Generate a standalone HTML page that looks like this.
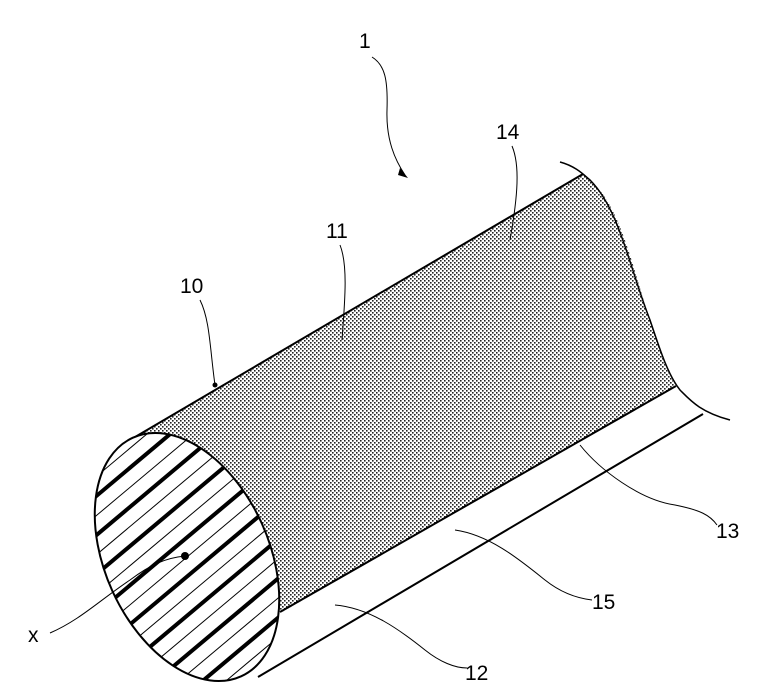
<!DOCTYPE html>
<html><head><style>html,body{margin:0;padding:0;background:#fff;overflow:hidden;width:780px;height:687px}svg{display:block}</style></head>
<body>
<svg width="780" height="687" viewBox="0 0 780 687" xmlns="http://www.w3.org/2000/svg">
<defs>
<pattern id="dots" width="4" height="4" patternUnits="userSpaceOnUse">
<rect x="0" y="0" width="1.6" height="1.6" fill="#222"/>
<rect x="2" y="2" width="1.6" height="1.6" fill="#222"/>
</pattern>
<clipPath id="ell"><ellipse cx="187" cy="557" rx="131" ry="82" transform="rotate(65.6 187 557)"/></clipPath>
</defs>
<path d="M130,440 L583,174 C620,200 630,260 650,320 C660,350 665,370 676,386 L282,612 Z" fill="url(#dots)"/>
<line x1="130" y1="440" x2="583" y2="174" stroke="#000" stroke-width="2"/>
<line x1="280" y1="612" x2="676" y2="386" stroke="#000" stroke-width="2"/>
<line x1="258" y1="677" x2="703" y2="414" stroke="#000" stroke-width="2"/>
<path d="M560,162 C575,166 583,174 590,180 C620,210 630,270 650,320 C660,350 668,375 680,390 C690,400 700,412 730,420" fill="none" stroke="#000" stroke-width="1.5"/>
<ellipse cx="187" cy="557" rx="131" ry="82" transform="rotate(65.6 187 557)" fill="#fff"/>
<g clip-path="url(#ell)" stroke="#000">
<g transform="rotate(-40 187 557)">
<line x1="-100" y1="392" x2="500" y2="392" stroke-width="4"/>
<line x1="-100" y1="407" x2="500" y2="407" stroke-width="1"/>
<line x1="-100" y1="422" x2="500" y2="422" stroke-width="4"/>
<line x1="-100" y1="437" x2="500" y2="437" stroke-width="1"/>
<line x1="-100" y1="452" x2="500" y2="452" stroke-width="4"/>
<line x1="-100" y1="467" x2="500" y2="467" stroke-width="1"/>
<line x1="-100" y1="482" x2="500" y2="482" stroke-width="4"/>
<line x1="-100" y1="497" x2="500" y2="497" stroke-width="1"/>
<line x1="-100" y1="512" x2="500" y2="512" stroke-width="4"/>
<line x1="-100" y1="527" x2="500" y2="527" stroke-width="1"/>
<line x1="-100" y1="542" x2="500" y2="542" stroke-width="4"/>
<line x1="-100" y1="557" x2="500" y2="557" stroke-width="1"/>
<line x1="-100" y1="572" x2="500" y2="572" stroke-width="4"/>
<line x1="-100" y1="587" x2="500" y2="587" stroke-width="1"/>
<line x1="-100" y1="602" x2="500" y2="602" stroke-width="4"/>
<line x1="-100" y1="617" x2="500" y2="617" stroke-width="1"/>
<line x1="-100" y1="632" x2="500" y2="632" stroke-width="4"/>
<line x1="-100" y1="647" x2="500" y2="647" stroke-width="1"/>
<line x1="-100" y1="662" x2="500" y2="662" stroke-width="4"/>
<line x1="-100" y1="677" x2="500" y2="677" stroke-width="1"/>
<line x1="-100" y1="692" x2="500" y2="692" stroke-width="4"/>
<line x1="-100" y1="707" x2="500" y2="707" stroke-width="1"/>
<line x1="-100" y1="722" x2="500" y2="722" stroke-width="4"/>
</g>
</g>
<ellipse cx="187" cy="557" rx="131" ry="82" transform="rotate(65.6 187 557)" fill="none" stroke="#000" stroke-width="2"/>
<g fill="none" stroke="#000" stroke-width="1">
<path d="M372,57 C385,65 388,80 387,110 C386,140 395,160 405,175"/>
<path d="M512,146 C520,165 518,195 510,240"/>
<path d="M340,245 C348,265 345,300 342,340"/>
<path d="M200,300 C210,320 210,350 215,385"/>
<path d="M50,633 C80,620 100,600 130,580 C150,565 165,558 185,556"/>
<path d="M580,445 C600,470 640,500 675,505 C700,510 710,515 717,525"/>
<path d="M455,530 C490,535 520,560 545,580 C560,592 575,598 592,600"/>
<path d="M335,605 C370,608 400,630 425,650 C440,662 455,668 467,668"/>
</g>
<path d="M400,168 L408,178 L398,175 Z" fill="#000"/>
<circle cx="185" cy="556" r="4" fill="#000"/>
<circle cx="215" cy="385" r="2.5" fill="#000"/>
<g font-family="Liberation Sans, sans-serif" font-size="21" fill="#000">
<text x="359" y="48">1</text>
<text x="496" y="139">14</text>
<text x="326" y="238">11</text>
<text x="180" y="293">10</text>
<text x="716" y="538">13</text>
<text x="592" y="609">15</text>
<text x="465" y="680">12</text>
<text x="28" y="642">x</text>
</g>
</svg>
</body></html>
